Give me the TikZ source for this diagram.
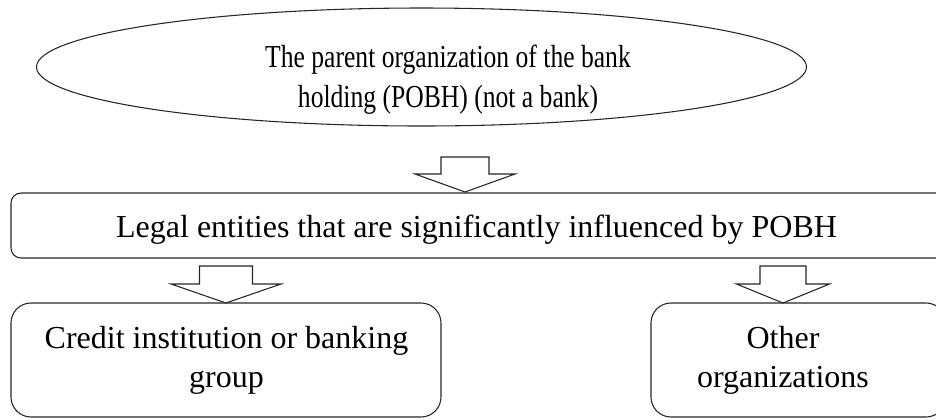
\documentclass[tikz,border=0pt]{standalone}
\usepackage{fontspec}
\setmainfont{Liberation Serif}
\usetikzlibrary{calc,shapes.geometric}

% hollow block arrow pointing down: tip, half shaft width, half head width, head length, total length
\newcommand\downblock[5]{%
  \draw[outline]
    (#1) -- ($(#1)+(#3,-#4)$) -- ($(#1)+(#2,-#4)$) -- ($(#1)+(#2,-#5)$)
    -- ($(#1)+(-#2,-#5)$) -- ($(#1)+(-#2,-#4)$) -- ($(#1)+(-#3,-#4)$) -- cycle;}
% narrow setting for the text inside the ellipse
\newcommand\narrowtext[1]{\scalebox{0.8}[1]{#1}}

\begin{document}
\begin{tikzpicture}[x=0.75pt,y=-0.75pt,
  outline/.style={draw=black!85, line width=0.8pt, line join=miter},
  txt/.style={font=\fontsize{24}{29.5}\selectfont, inner sep=0pt, anchor=base},
  box/.style={outline, rectangle, inner sep=0pt}]
\useasboundingbox (0,0) rectangle (936,419);
\clip (0,0) rectangle (936,419);

% top-level organization
\node (parent) [outline, ellipse, inner sep=0pt,
  minimum width=577.5pt, minimum height=88.5pt] at (421.5,67) {};
\node (p1) [txt] at (448,67) {\narrowtext{The parent organization of the bank}};
\node (p2) [txt] at (448,107) {\narrowtext{holding (POBH) (not a bank)}};

% entities under significant influence
\node (legal) [box, rounded corners=7.5pt,
  minimum width=704.25pt, minimum height=48.75pt] at (480.5,225.5) {};
\node (l1) [txt] at (476.5,237) {Legal entities that are significantly influenced by POBH};

% lower level
\node (credit) [box, rounded corners=15pt,
  minimum width=322.5pt, minimum height=85.5pt] at (226,360) {};
\node (c1) [txt] at (226.5,348) {Credit institution or banking};
\node (c2) [txt] at (226.5,387) {group};

\node (other) [box, rounded corners=15pt,
  minimum width=221.25pt, minimum height=85.5pt] at (798.5,360) {};
\node (o1) [txt] at (783,348) {Other};
\node (o2) [txt] at (783,387) {organizations};

% block arrows resting on the box tops
\coordinate (t1) at (465,192);
\coordinate (t2) at (226,303);
\coordinate (t3) at (783,303);
\downblock{t1}{24}{50}{18}{35}
\downblock{t2}{26.5}{55}{19}{37}
\downblock{t3}{23}{46.5}{19}{37}
\end{tikzpicture}
\end{document}
